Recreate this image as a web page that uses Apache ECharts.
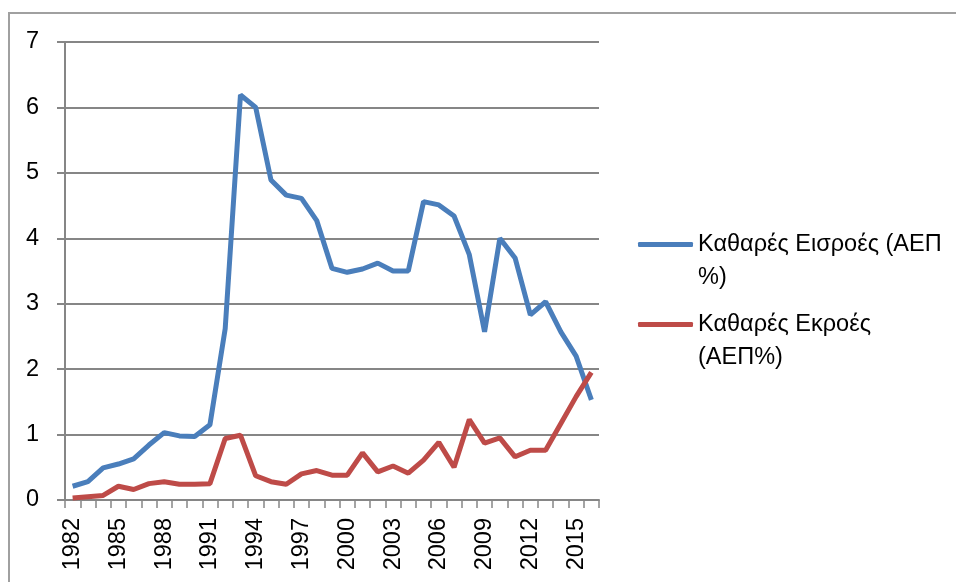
<!DOCTYPE html>
<html>
<head>
<meta charset="utf-8">
<script src="https://cdn.jsdelivr.net/npm/echarts@6/dist/echarts.min.js"></script>
<style>html,body{margin:0;padding:0;background:#fff}#c{width:956px;height:582px}</style>
</head>
<body>
<div id="c"></div>
<script>
var years = ['1982','1983','1984','1985','1986','1987','1988','1989','1990','1991','1992','1993','1994','1995','1996','1997','1998','1999','2000','2001','2002','2003','2004','2005','2006','2007','2008','2009','2010','2011','2012','2013','2014','2015','2016'];
var inflows = [0.21,0.28,0.49,0.55,0.63,0.84,1.03,0.98,0.97,1.15,2.62,6.19,6.0,4.89,4.66,4.61,4.27,3.54,3.48,3.53,3.62,3.50,3.50,4.56,4.51,4.34,3.75,2.57,4.0,3.70,2.83,3.03,2.57,2.2,1.53];
var outflows = [0.03,0.05,0.07,0.21,0.16,0.25,0.28,0.24,0.24,0.25,0.94,0.99,0.37,0.28,0.24,0.40,0.45,0.38,0.38,0.72,0.43,0.52,0.41,0.61,0.88,0.50,1.23,0.87,0.95,0.66,0.76,0.76,1.17,1.58,1.95];
var seriesNames = ['Καθαρές Εισροές (ΑΕΠ\n%)', 'Καθαρές Εκροές\n(ΑΕΠ%)'];
var yTicks = [0,1,2,3,4,5,6,7];

var font = 'Liberation Sans';
var legendText = {fontFamily: font, fontSize: 23.5, color: '#000', lineHeight: 33};
function legendFmt(name) { return '\n' + name; }
var chart = echarts.init(document.getElementById('c'));
chart.setOption({
  animation: false,
  backgroundColor: '#fff',
  color: ['#4A7EBB', '#BE4B48'],
  graphic: [{type: 'rect', z: -1, shape: {x: 9, y: 13, width: 1000, height: 700}, style: {fill: 'none', stroke: '#a0a0a0', lineWidth: 2}}],
  grid: {left: 65, right: 357, top: 42, bottom: 82},
  legend: [
    {data: [seriesNames[0]], orient: 'vertical', left: 638, top: 195, padding: 0, itemWidth: 55, itemHeight: 5, itemGap: 0,
     icon: 'roundRect', textStyle: legendText, formatter: legendFmt},
    {data: [seriesNames[1]], orient: 'vertical', left: 638, top: 275, padding: 0, itemWidth: 55, itemHeight: 5, itemGap: 0,
     icon: 'roundRect', textStyle: legendText, formatter: legendFmt}
  ],
  xAxis: {
    type: 'category', data: years, boundaryGap: true,
    axisLine: {lineStyle: {color: '#868686', width: 2}},
    axisTick: {show: true, interval: 0, length: 8, lineStyle: {color: '#868686', width: 1.5}},
    axisLabel: {interval: 2, rotate: 90, margin: 18, fontFamily: font, fontSize: 23.5, color: '#000'},
    splitLine: {show: false}
  },
  yAxis: {
    type: 'value', min: 0, max: 7, interval: 1,
    axisLine: {show: true, lineStyle: {color: '#868686', width: 2}},
    axisTick: {show: true, length: 8, lineStyle: {color: '#868686', width: 2}},
    axisLabel: {margin: 26, fontFamily: font, fontSize: 23.5, color: '#000',
      formatter: function (v) { return yTicks.indexOf(v) >= 0 ? String(v) : ''; }},
    splitLine: {show: true, lineStyle: {color: '#868686', width: 2}}
  },
  series: [
    {name: seriesNames[0], type: 'line', data: inflows, symbol: 'none', lineStyle: {width: 5}},
    {name: seriesNames[1], type: 'line', data: outflows, symbol: 'none', lineStyle: {width: 5}}
  ]
});
</script>
</body>
</html>
